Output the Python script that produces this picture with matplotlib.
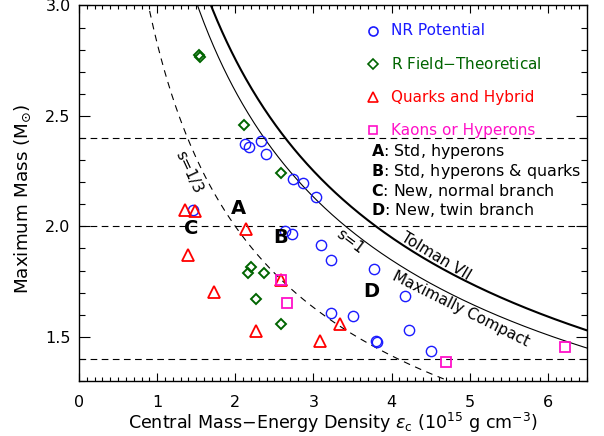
import numpy as np
import matplotlib
matplotlib.use("Agg")
import matplotlib.pyplot as plt

# central energy density (1e15 g/cm^3) and maximum mass (Msun) for each EOS family
nr_eps = [1.46, 2.13, 2.17, 2.33, 2.39, 2.74, 2.86, 3.03, 2.63, 2.73, 3.10, 3.22,
          3.77, 4.17, 4.22, 3.23, 3.51, 3.80, 3.81, 4.50]
nr_mass = [2.075, 2.372, 2.361, 2.388, 2.328, 2.214, 2.198, 2.132, 1.977, 1.966, 1.917, 1.848,
           1.808, 1.684, 1.532, 1.610, 1.595, 1.479, 1.475, 1.437]

rft_eps = [1.53, 1.55, 2.11, 2.58, 2.20, 2.16, 2.37, 2.26, 2.59]
rft_mass = [2.778, 2.768, 2.459, 2.241, 1.814, 1.791, 1.788, 1.671, 1.556]

quark_eps = [1.36, 1.48, 2.14, 1.39, 1.73, 2.58, 3.34, 2.27, 3.08]
quark_mass = [2.075, 2.070, 1.990, 1.871, 1.702, 1.758, 1.559, 1.527, 1.481]

kaon_eps = [2.58, 2.66, 4.70, 6.22]
kaon_mass = [1.758, 1.652, 1.385, 1.453]

# mass limits drawn as horizontal lines
mass_limits = [2.4, 2.0, 1.4]

# M^2 * eps_c for the limiting curves
tolman_coef = 15.2
maxcomp_coef = 13.65
third_coef = 8.0

blue = '#1a1aff'
green = '#006400'
red = '#ff0000'
pink = '#ff10c8'

fig = plt.figure(figsize=(6.04, 4.36), dpi=100)
ax = fig.add_axes([0.1308, 0.1261, 0.8411, 0.8613])

for m in mass_limits:
    ax.axhline(m, color='k', lw=0.8, ls=(0, (6, 4)))

e = np.linspace(0.5, 6.6, 400)
ax.plot(e, np.sqrt(tolman_coef / e), color='k', lw=1.5)
ax.plot(e, np.sqrt(maxcomp_coef / e), color='k', lw=0.8)
ax.plot(e, np.sqrt(third_coef / e), color='k', lw=0.8, ls=(0, (6, 5)))

ax.plot(nr_eps, nr_mass, 'o', ms=7.4, mfc='none', mec=blue, mew=1.0)
ax.plot(rft_eps, rft_mass, 'D', ms=4.6, mfc='none', mec=green, mew=1.4)
ax.plot(quark_eps, quark_mass, '^', ms=8, mfc='none', mec=red, mew=1.3)
ax.plot(kaon_eps, kaon_mass, 's', ms=6.8, mfc='none', mec=pink, mew=1.3)

# legend, written by hand
leg = [('o', blue, 'NR Potential', 2.885, 6.5),
       ('D', green, 'R Field$-$Theoretical', 2.735, 4.6),
       ('^', red, 'Quarks and Hybrid', 2.585, 7.5),
       ('s', pink, 'Kaons or Hyperons', 2.435, 6.0)]
for mk, c, txt, yy, sz in leg:
    ax.plot([3.76], [yy], mk, ms=sz, mfc='none', mec=c, mew=1.2)
    ax.text(3.99, yy, txt, color=c, fontsize=11, va='center', ha='left')

notes = [('A', 'Std, hyperons', 2.34),
         ('B', 'Std, hyperons & quarks', 2.25),
         ('C', 'New, normal branch', 2.16),
         ('D', 'New, twin branch', 2.073)]
for k, txt, yy in notes:
    ax.text(3.73, yy, r'$\mathbf{' + k + '}$: ' + txt, fontsize=11.4, va='center', ha='left')

for k, xx, yy in [('A', 2.04, 2.082), ('B', 2.58, 1.951), ('C', 1.43, 1.989), ('D', 3.74, 1.705)]:
    ax.text(xx, yy, k, fontsize=14, fontweight='bold', ha='center', va='center')

ax.text(1.41, 2.245, 's=1/3', fontsize=11, rotation=-65, ha='center', va='center')
ax.text(3.47, 1.93, 's=1', fontsize=11, rotation=-37, ha='center', va='center')
ax.text(4.57, 1.865, 'Tolman VII', fontsize=11, rotation=-31, ha='center', va='center')
ax.text(4.88, 1.625, 'Maximally Compact', fontsize=11, rotation=-26.5, ha='center', va='center')

ax.set_xlim(0, 6.5)
ax.set_ylim(1.3, 3.0)
ax.set_xticks([0, 1, 2, 3, 4, 5, 6])
ax.set_xticks(np.arange(0, 6.51, 0.1), minor=True)
ax.set_yticks([1.5, 2.0, 2.5, 3.0])
ax.set_yticklabels(['1.5', '2.0', '2.5', '3.0'])
ax.set_yticks(np.arange(1.3, 3.001, 0.1), minor=True)
ax.tick_params(axis='both', which='both', direction='in', top=True, right=True,
               labelsize=11.5, width=0.8)
ax.tick_params(axis='x', which='major', length=6, pad=10)
ax.tick_params(axis='x', which='minor', length=3)
ax.tick_params(axis='y', which='major', length=8, pad=6)
ax.tick_params(axis='y', which='minor', length=4.5)
for sp in ax.spines.values():
    sp.set_linewidth(1.0)

ax.set_xlabel(r'Central Mass$-$Energy Density $\epsilon_{\rm c}$ (10$^{15}$ g cm$^{-3}$)',
              fontsize=12.6, labelpad=1)
ax.set_ylabel(r'Maximum Mass (M$_{\odot}$)', fontsize=13.2, labelpad=4)
ax.yaxis.set_label_coords(-0.09, 0.485)

fig.savefig('out.png', dpi=100)
